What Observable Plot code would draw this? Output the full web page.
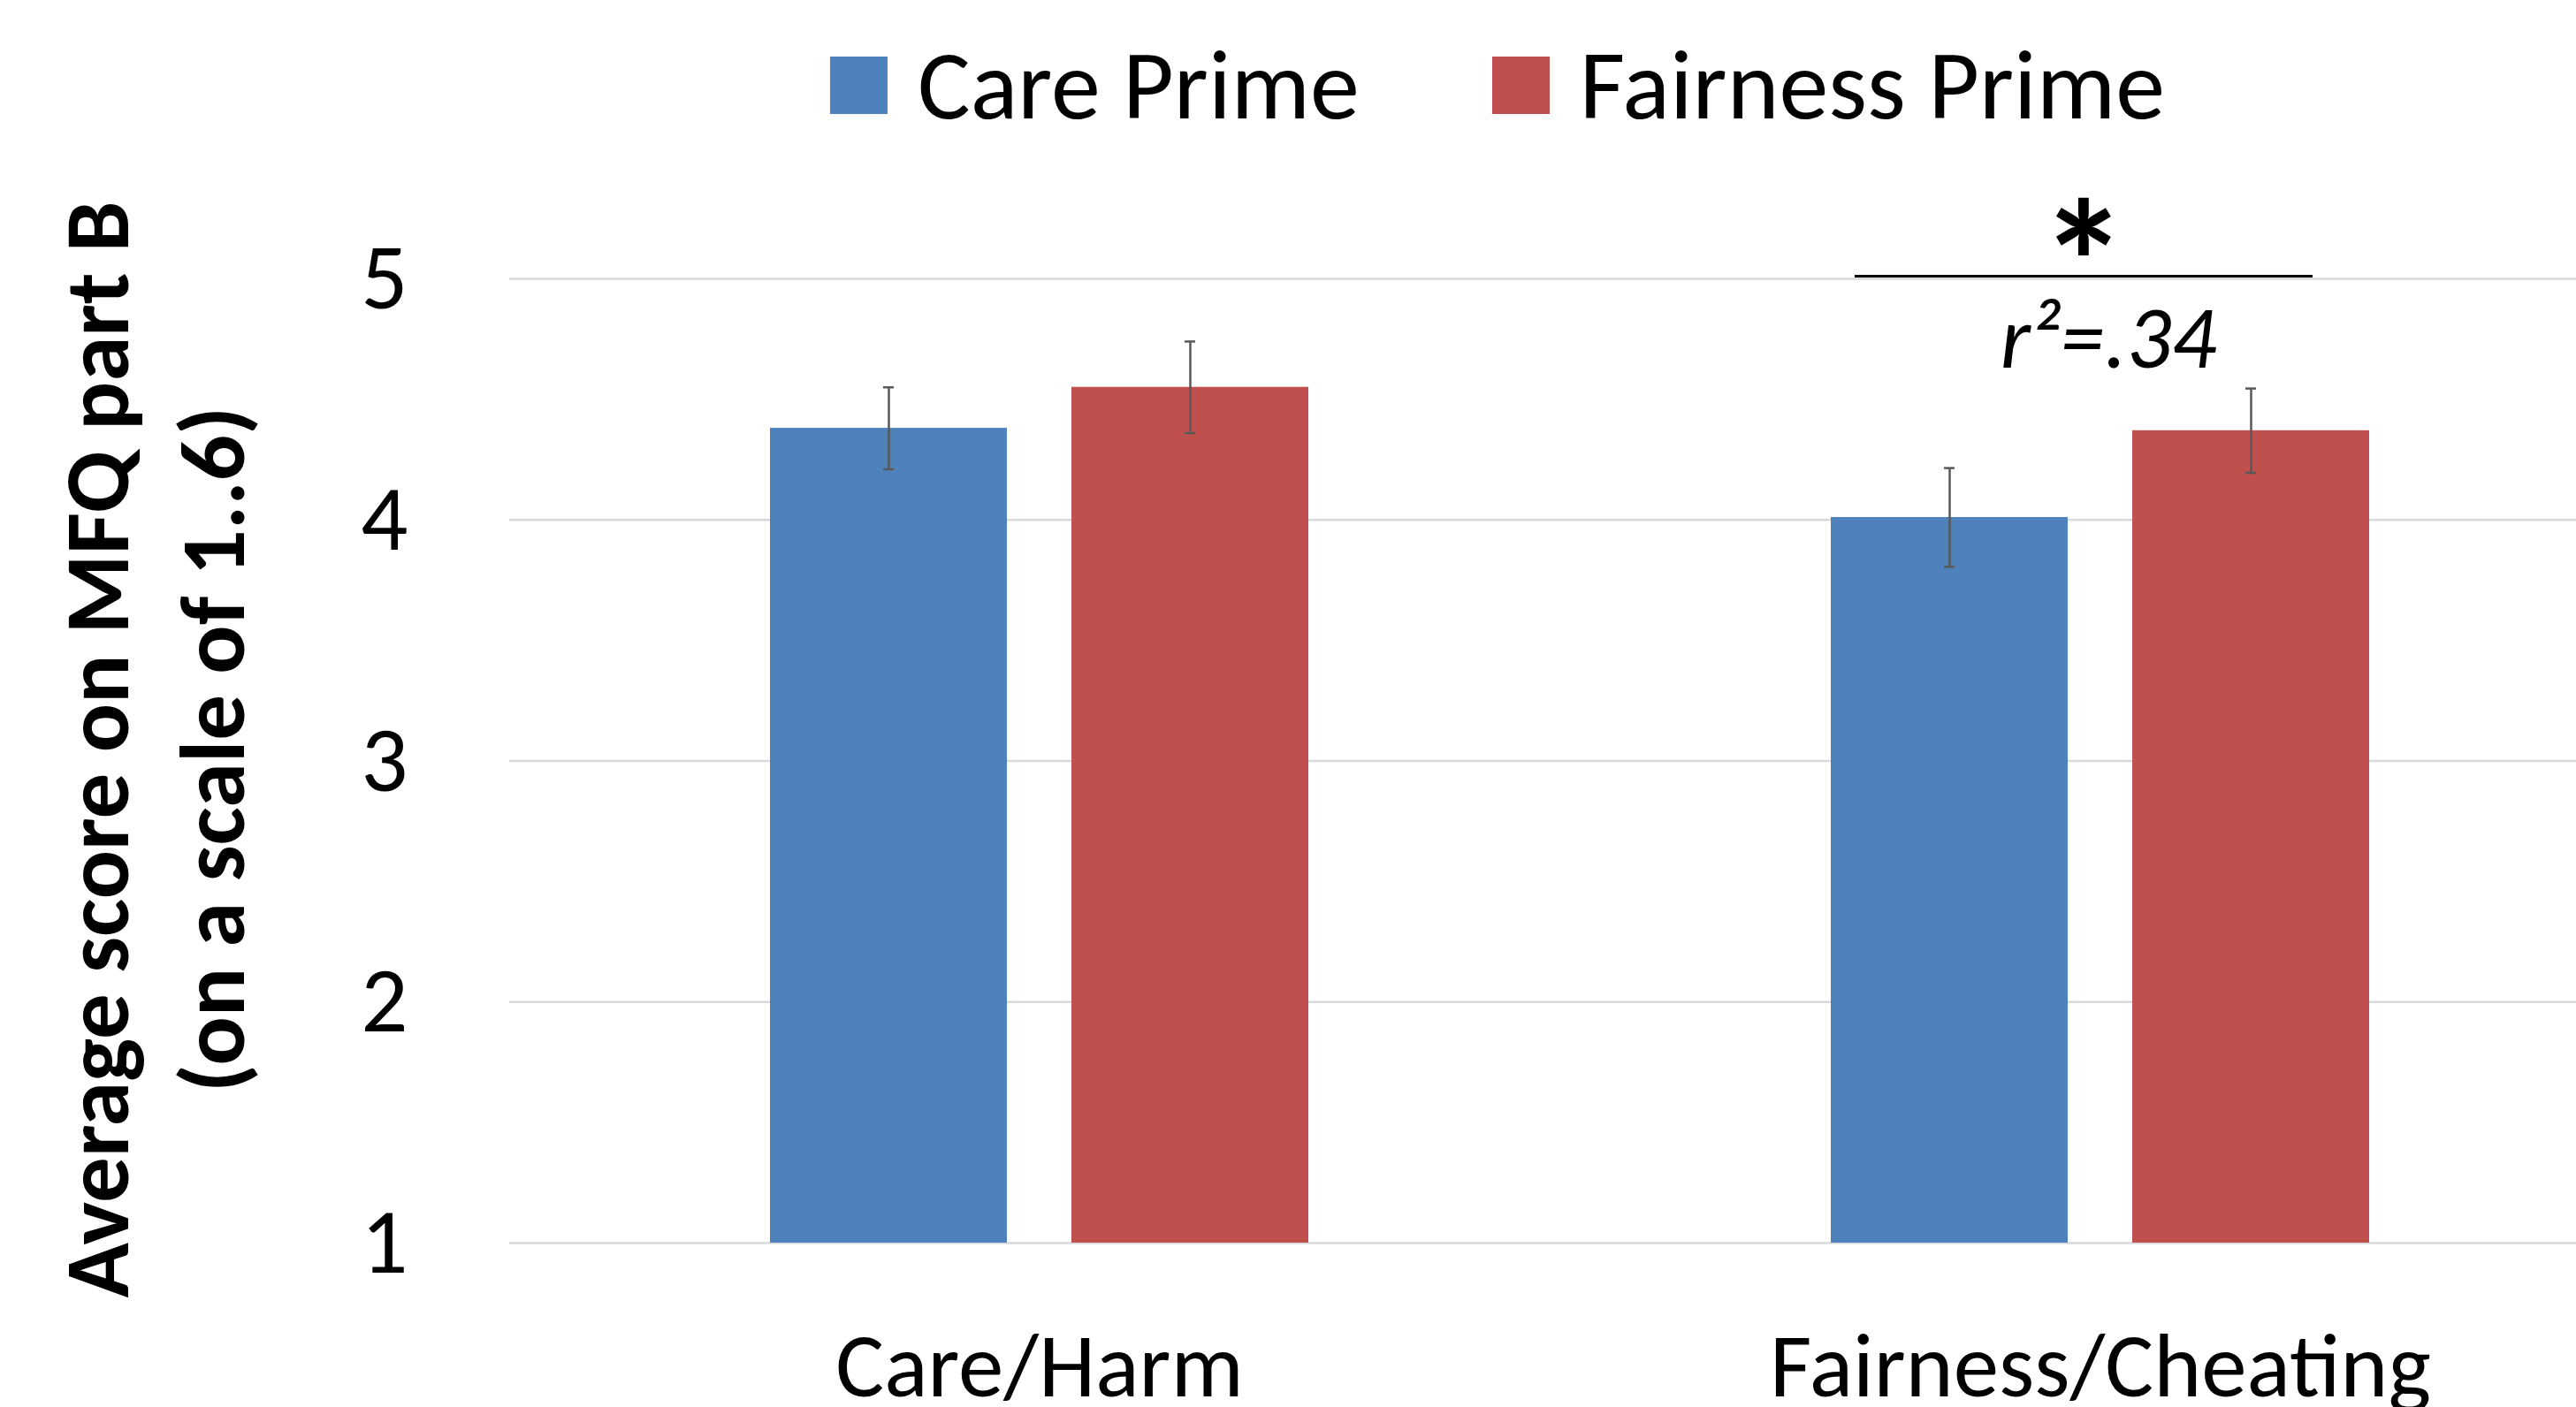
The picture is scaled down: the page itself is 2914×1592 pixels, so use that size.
<!DOCTYPE html>
<html><head><meta charset="utf-8">
<script src="https://cdn.jsdelivr.net/npm/d3@7"></script>
<script src="https://cdn.jsdelivr.net/npm/@observablehq/plot@0.6"></script>
<style>
body{margin:0;background:#fff;}
#wrap{position:relative;width:2914px;height:1592px;font-family:Calibri,Carlito,Lato,sans-serif;overflow:hidden;}
#legend{position:absolute;top:40px;left:939px;display:flex;align-items:center;font-size:112px;line-height:1;color:#000;}
.item{display:flex;align-items:center;margin-right:150px;}
.sw{display:inline-block;width:65px;height:65px;margin-right:34px;}
</style></head>
<body><div id="wrap"><div id="legend"></div></div>
<script>
const categories = ["Care/Harm", "Fairness/Cheating"];
const series = ["Care Prime", "Fairness Prime"];
const carePrime = [4.38, 4.01];
const fairnessPrime = [4.55, 4.37];
const carePrimeErr = [0.17, 0.205];
const fairnessPrimeErr = [0.19, 0.175];
const yTicks = [1, 2, 3, 4, 5];
const yTitle = ["Average score on MFQ part B", "(on a scale of 1..6)"];
const sigCategory = "Fairness/Cheating";
const sigMark = "*";
const sigLabel = "r\u00B2=.34";
const colors = ["#4F81BD", "#C0504D"];

const FONT = "Calibri, Carlito, Lato, sans-serif";
const BAND = 609, BAR = 268, GAP = BAND - BAR, HALF = GAP / 2, CAP = 6;

const data = categories.flatMap((c, i) => [
  {category: c, series: series[0], value: carePrime[i], err: carePrimeErr[i]},
  {category: c, series: series[1], value: fairnessPrime[i], err: fairnessPrimeErr[i]}
]);
const s0 = data.filter(d => d.series === series[0]);
const s1 = data.filter(d => d.series === series[1]);
const yBase = yTicks[0];
const yMax = yTicks[yTicks.length - 1];
const errStyle = {stroke: "#595959", strokeWidth: 2.5};

const chart = Plot.plot({
  width: 2914, height: 1592,
  marginLeft: 576, marginRight: 0, marginTop: 315, marginBottom: 186,
  style: {fontFamily: FONT, background: "white", color: "#000", overflow: "visible"},
  x: {domain: categories, range: [576, 2974], paddingInner: 0.4925, paddingOuter: 0.2454},
  y: {domain: [yBase, yMax]},
  marks: [
    Plot.gridY(yTicks, {stroke: "#d9d9d9", strokeOpacity: 1, strokeWidth: 2.5}),
    Plot.barY(s0, {x: "category", y1: d => yBase, y2: "value", fill: colors[0], insetRight: GAP}),
    Plot.barY(s1, {x: "category", y1: d => yBase, y2: "value", fill: colors[1], insetLeft: GAP}),
    Plot.ruleX(s0, {x: "category", y1: d => d.value - d.err, y2: d => d.value + d.err, dx: -HALF, ...errStyle}),
    Plot.ruleX(s1, {x: "category", y1: d => d.value - d.err, y2: d => d.value + d.err, dx: HALF, ...errStyle}),
    Plot.tickY(s0, {x: "category", y: d => d.value - d.err, insetLeft: BAR / 2 - CAP, insetRight: BAND - BAR / 2 - CAP, ...errStyle}),
    Plot.tickY(s0, {x: "category", y: d => d.value + d.err, insetLeft: BAR / 2 - CAP, insetRight: BAND - BAR / 2 - CAP, ...errStyle}),
    Plot.tickY(s1, {x: "category", y: d => d.value - d.err, insetLeft: BAND - BAR / 2 - CAP, insetRight: BAR / 2 - CAP, ...errStyle}),
    Plot.tickY(s1, {x: "category", y: d => d.value + d.err, insetLeft: BAND - BAR / 2 - CAP, insetRight: BAR / 2 - CAP, ...errStyle}),
    Plot.tickY([{category: sigCategory, y: yMax}], {x: "category", y: "y", insetLeft: 27, insetRight: 64, dy: -3, stroke: "#000", strokeWidth: 3}),
    Plot.text([{category: sigCategory, y: yMax}], {x: "category", y: "y", text: d => sigMark, fontSize: 200, fontWeight: "bold", dx: -19, dy: -12, lineAnchor: "middle", fill: "#000"}),
    Plot.text([{category: sigCategory, y: yMax}], {x: "category", y: "y", text: d => sigLabel, fontSize: 100, fontStyle: "italic", dx: 9, dy: 68, lineAnchor: "middle", fill: "#000"}),
    Plot.axisY(yTicks, {tickSize: 0, tickPadding: 115, fontSize: 105, label: null, tickFormat: d => String(d)}),
    Plot.axisX({tickSize: 0, tickPadding: 100, fontSize: 103, label: null}),
    Plot.text([yTitle.join("\n")], {frameAnchor: "left", text: d => d, rotate: -90, fontSize: 103, fontWeight: "bold", lineHeight: 1.27, textAnchor: "middle", dx: -408, dy: -13, lineAnchor: "middle", fill: "#000"})
  ]
});
document.getElementById("wrap").appendChild(chart);

const legend = document.getElementById("legend");
series.forEach((s, i) => {
  const item = document.createElement("div");
  item.className = "item";
  const sw = document.createElement("span");
  sw.className = "sw";
  sw.style.background = colors[i];
  const lab = document.createElement("span");
  lab.textContent = s;
  item.appendChild(sw);
  item.appendChild(lab);
  legend.appendChild(item);
});
</script>
</body></html>
